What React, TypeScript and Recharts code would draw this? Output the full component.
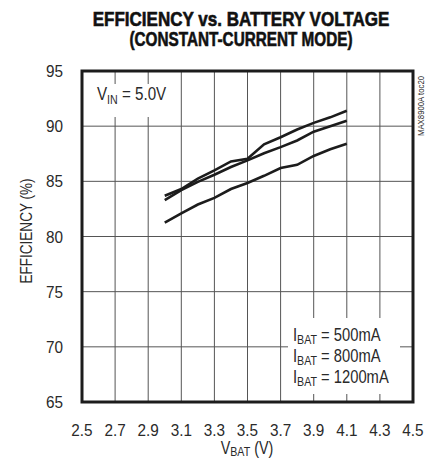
import React from 'react';
import { LineChart, Line, XAxis, YAxis, CartesianGrid } from 'recharts';

const vbat = [3.0, 3.1, 3.2, 3.3, 3.4, 3.5, 3.6, 3.7, 3.8, 3.9, 4.0, 4.1];
const eff500 = [83.7, 84.3, 85.25, 86.0, 86.8, 87.05, 88.35, 89.0, 89.7, 90.3, 90.8, 91.4];
const eff800 = [83.3, 84.2, 84.95, 85.6, 86.3, 86.9, 87.55, 88.1, 88.7, 89.5, 90.0, 90.5];
const eff1200 = [81.25, 82.1, 82.9, 83.5, 84.3, 84.85, 85.5, 86.2, 86.5, 87.3, 87.9, 88.4];

const xTicks = [2.5, 2.7, 2.9, 3.1, 3.3, 3.5, 3.7, 3.9, 4.1, 4.3, 4.5];
const yTicks = [65, 70, 75, 80, 85, 90, 95];
const legendLabels = ['500mA', '800mA', '1200mA'];

const data = vbat.map((v, i) => ({
  v,
  a: eff500[i],
  b: eff800[i],
  c: eff1200[i],
}));

// Arial Narrow is roughly Arial squeezed to 82%
const FONT = '"Liberation Sans", Arial, sans-serif';
const NARROW = 0.82;
const INK = '#1c1c1c';
const TXT = '#2a2a2a';

// text squeezed horizontally around its anchor point
const Narrow = ({ x, y, rotate = 0, sx = NARROW, children, ...rest }: any) => (
  <g transform={`translate(${x} ${y}) rotate(${rotate}) scale(${sx} 1)`}>
    <text x={0} y={0} {...rest}>
      {children}
    </text>
  </g>
);

const XTick = ({ x, y, payload }: any) => (
  <Narrow x={x} y={y + 12} sx={0.9} fontSize={17} textAnchor="middle" fill={TXT} fontFamily={FONT}>
    {payload.value.toFixed(1)}
  </Narrow>
);

const YTick = ({ x, y, payload }: any) => (
  <Narrow x={x} y={y + 6} sx={0.9} fontSize={17} textAnchor="end" fill={TXT} fontFamily={FONT}>
    {payload.value}
  </Narrow>
);

export default function App() {
  return (
    <div style={{ position: 'absolute', left: 0, top: 0, width: 425, height: 461, background: '#fff' }}>
      <LineChart
        width={425}
        height={461}
        data={data}
        margin={{ top: 71, right: 12, bottom: 9, left: 0 }}
      >
        <CartesianGrid stroke="#555" strokeWidth={1} />
        <XAxis
          dataKey="v"
          type="number"
          domain={[2.5, 4.5]}
          ticks={xTicks}
          axisLine={false}
          tickLine={false}
          height={50}
          tickMargin={16}
          tick={<XTick />}
        />
        <YAxis
          type="number"
          domain={[65, 95]}
          ticks={yTicks}
          axisLine={false}
          tickLine={false}
          width={82}
          tickMargin={13}
          tick={<YTick />}
        />
        <Line dataKey="a" stroke={INK} strokeWidth={2.6} dot={false} isAnimationActive={false} type="linear" />
        <Line dataKey="b" stroke={INK} strokeWidth={2.6} dot={false} isAnimationActive={false} type="linear" />
        <Line dataKey="c" stroke={INK} strokeWidth={2.6} dot={false} isAnimationActive={false} type="linear" />
      </LineChart>

      <svg
        width={425}
        height={461}
        style={{ position: 'absolute', left: 0, top: 0, pointerEvents: 'none' }}
        fontFamily={FONT}
        fill={TXT}
      >
        {/* title, heavy condensed look */}
        <Narrow x={241} y={26} sx={0.852} fontSize={20} fontWeight="bold" fill="#111" stroke="#111"
          strokeWidth={0.6} textAnchor="middle">
          EFFICIENCY vs. BATTERY VOLTAGE
        </Narrow>
        <Narrow x={241} y={46} sx={0.765} fontSize={20} fontWeight="bold" fill="#111" stroke="#111"
          strokeWidth={0.6} textAnchor="middle">
          (CONSTANT-CURRENT MODE)
        </Narrow>

        {/* white boxes where the grid is cut for the labels */}
        <rect x={94} y={84} width={73} height={33} fill="#fff" />
        <rect x={288} y={318} width={112} height={76} fill="#fff" />

        <Narrow x={97} y={100} fontSize={18.5}>
          V<tspan fontSize={13} dy={4}>IN</tspan>
          <tspan dy={-4}> = 5.0V</tspan>
        </Narrow>

        {legendLabels.map((l, i) => (
          <Narrow key={l} x={293} y={341 + i * 21} fontSize={18}>
            I<tspan fontSize={13} dy={3}>BAT</tspan>
            <tspan dy={-3}> = {l}</tspan>
          </Narrow>
        ))}

        {/* frame */}
        <rect x={82} y={71} width={331} height={331} fill="none" stroke={INK} strokeWidth={3} />

        {/* axis titles */}
        <Narrow x={247} y={454} fontSize={17.5} textAnchor="middle">
          V<tspan fontSize={13} dy={2}>BAT</tspan>
          <tspan dy={-2}> (V)</tspan>
        </Narrow>
        <Narrow x={32} y={231} rotate={-90} fontSize={16.5} textAnchor="middle">
          EFFICIENCY (%)
        </Narrow>
        <Narrow x={424} y={106} rotate={-90} fontSize={9.5} textAnchor="middle">
          MAX8900A toc20
        </Narrow>
      </svg>
    </div>
  );
}
